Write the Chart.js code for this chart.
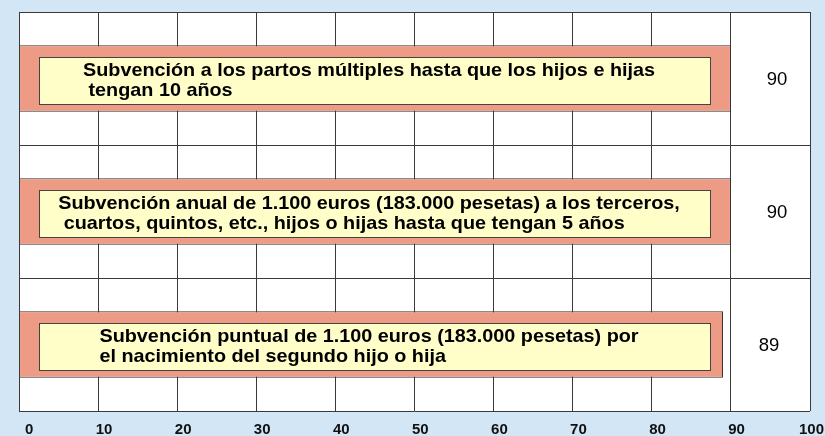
<!DOCTYPE html>
<html><head><meta charset="utf-8">
<script src="https://cdn.jsdelivr.net/npm/chart.js@4/dist/chart.umd.min.js"></script>
<style>html,body{margin:0;padding:0;background:#D3E6F5;overflow:hidden}#wrap{width:825px;height:436px}</style>
</head><body><div id="wrap"><canvas id="c" width="825" height="436"></canvas></div>
<script>
// ---- data ----
const categories = [
  ["Subvención a los partos múltiples hasta que los hijos e hijas", " tengan 10 años"],
  ["Subvención anual de 1.100 euros (183.000 pesetas) a los terceros,", " cuartos, quintos, etc., hijos o hijas hasta que tengan 5 años"],
  ["Subvención puntual de 1.100 euros (183.000 pesetas) por", "el nacimiento del segundo hijo o hija"]
];
const values = [90, 90, 89];
const xMin = 0, xMax = 100, xStep = 10;

const FONT = '"Liberation Sans", Arial, sans-serif';

const panelPlugin = {
  id: 'panel',
  beforeDraw(chart) {
    const {ctx, chartArea: a} = chart;
    ctx.save();
    ctx.fillStyle = '#D3E6F5';
    ctx.fillRect(0, 0, chart.width, chart.height);
    ctx.fillStyle = '#ffffff';
    ctx.fillRect(a.left, a.top, a.right - a.left, a.bottom - a.top);
    ctx.restore();
  },
  afterDatasetsDraw(chart) {
    const {ctx} = chart;
    const xs = chart.scales.x;
    const meta = chart.getDatasetMeta(0);
    const sx = 1.07;
    meta.data.forEach((bar, i) => {
      const p = bar.getProps(['x', 'y', 'base'], true);
      const left = Math.round(p.base + 19) + 0.5;
      const right = Math.round(xs.getPixelForValue(87.3)) + 0.5;
      const top = Math.round(p.y - 22) + 0.5;
      const bottom = Math.round(p.y + 25) + 0.5;
      ctx.save();
      ctx.fillStyle = '#FFFDC8';
      ctx.fillRect(left, top, right - left, bottom - top);
      ctx.strokeStyle = '#444';
      ctx.lineWidth = 1;
      ctx.strokeRect(left, top, right - left, bottom - top);
      const lines = chart.data.labels[i];
      ctx.font = 'bold 18.5px ' + FONT;
      ctx.fillStyle = '#000';
      ctx.textAlign = 'left';
      ctx.textBaseline = 'alphabetic';
      const w = Math.max(...lines.map(l => ctx.measureText(l).width)) * sx;
      const tx = (left + right) / 2 - 6 - w / 2;
      ctx.save();
      ctx.translate(tx, 0);
      ctx.scale(sx, 1);
      ctx.fillText(lines[0], 0, p.y - 2.5);
      ctx.fillText(lines[1], 0, p.y + 17);
      ctx.restore();
      ctx.font = '18.5px ' + FONT;
      ctx.textAlign = 'center';
      ctx.textBaseline = 'middle';
      ctx.fillText(String(chart.data.datasets[0].data[i]), p.x + 46, p.y + 1);
      ctx.restore();
    });
  }
};

new Chart(document.getElementById('c'), {
  type: 'bar',
  data: {
    labels: categories,
    datasets: [{
      data: values,
      backgroundColor: '#EE9B85',
      borderColor: '#333',
      borderWidth: 1,
      xAxisID: 'x',
      yAxisID: 'y',
      barPercentage: 0.5,
      categoryPercentage: 1
    }]
  },
  options: {
    indexAxis: 'y',
    responsive: false,
    animation: false,
    devicePixelRatio: 1,
    layout: {padding: {left: 16, top: 12, right: 15, bottom: 0}},
    plugins: {legend: {display: false}, tooltip: {enabled: false}},
    scales: {
      x: {
        type: 'linear', position: 'bottom', min: xMin, max: xMax, offset: false,
        ticks: {stepSize: xStep, align: 'end', labelOffset: 14, padding: 11, color: '#111',
                font: {family: FONT, size: 15, weight: 'bold', lineHeight: 1}},
        grid: {color: '#3a3a3a', lineWidth: 1, drawTicks: false, offset: false},
        border: {display: false},
        afterFit(s) { s.height = 25; }
      },
      y: {type: 'category', display: false, grid: {display: false}},
      yg: {
        type: 'linear', axis: 'y', position: 'left', min: 0, max: categories.length, offset: false,
        ticks: {display: false},
        afterBuildTicks(s) { s.ticks = categories.map((c, i) => ({value: i})).concat([{value: categories.length}]); },
        grid: {color: '#3a3a3a', lineWidth: 1, drawTicks: false, offset: false},
        border: {display: false}
      }
    }
  },
  plugins: [panelPlugin]
});
</script>
</body></html>
